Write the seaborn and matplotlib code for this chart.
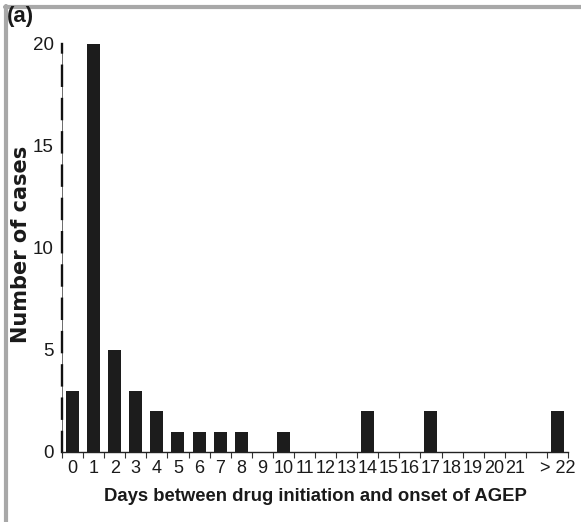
import matplotlib
matplotlib.use("Agg")
import numpy as np
import pandas as pd
import matplotlib.pyplot as plt
import seaborn as sns
from matplotlib.lines import Line2D

# Days between drug initiation and onset (blank slot keeps the gap before "> 22")
day_labels = [str(d) for d in range(22)] + ["", "> 22"]
case_counts = [3, 20, 5, 3, 2, 1, 1, 1, 1, 0, 1, 0, 0, 0, 2, 0, 0, 2, 0, 0, 0, 0, 0, 2]
y_ticks = [0, 5, 10, 15, 20]

sns.set_theme(style="ticks")
plt.rcParams["font.family"] = ["Liberation Sans", "DejaVu Sans"]

W, H = 581, 522
fig = plt.figure(figsize=(W / 100, H / 100), dpi=100)
fig.patch.set_facecolor("white")

ax = fig.add_axes([62 / W, 1 - 452 / H, (568 - 62) / W, (452 - 44) / H])
df = pd.DataFrame({"day": day_labels, "cases": case_counts})
sns.barplot(data=df, x="day", y="cases", order=day_labels, color="#1c1c1c",
            saturation=1, width=0.62, edgecolor="none", ax=ax)

ax.set_xlim(-0.5, len(day_labels) - 0.5)
ax.set_ylim(0, 20)
ax.set_facecolor("white")

# x axis: labels under bars, small tick marks at the bar boundaries
ax.set_xticks(range(len(day_labels)))
ax.set_xticklabels(day_labels)
ax.set_xticks(np.arange(-0.5, len(day_labels), 1.0), minor=True)
ax.tick_params(axis="x", which="major", length=0, pad=6, labelsize=13, colors="#1a1a1a")
ax.tick_params(axis="x", which="minor", length=4, width=0.8, direction="out", color="#333333")

# y axis
ax.set_yticks(y_ticks)
ax.tick_params(axis="y", which="major", length=0, pad=6, labelsize=13.5, colors="#1a1a1a")

for s in ("top", "right"):
    ax.spines[s].set_visible(False)
ax.spines["bottom"].set_linewidth(1.0)
ax.spines["bottom"].set_color("#222222")
ax.spines["left"].set_linewidth(1.7)
ax.spines["left"].set_color("#111111")
ax.spines["left"].set_linestyle((0, (8.5, 5.6)))
ax.axvline(-0.5, color="#555555", lw=0.6, zorder=0, clip_on=False)

ax.set_xlabel("Days between drug initiation and onset of AGEP", fontsize=13.3,
              fontweight="bold", labelpad=8, color="#1a1a1a")
ax.set_ylabel("Number of cases", fontsize=15, fontweight="bold",
              family=["DejaVu Sans"], color="#1a1a1a")
ax.yaxis.set_label_coords(-0.062, 0.51)

fig.text(7 / W, 1 - 6 / H, "(a)", fontsize=16, fontweight="bold", ha="left",
         va="top", color="#1a1a1a")

# grey frame along the top and left edges
fig.add_artist(Line2D([5 / W, 1], [1 - 7 / H, 1 - 7 / H], transform=fig.transFigure,
                      color="#a8a8a8", lw=3))
fig.add_artist(Line2D([6 / W, 6 / W], [0, 1 - 5.5 / H], transform=fig.transFigure,
                      color="#a8a8a8", lw=3))

fig.savefig("out.png", dpi=100)
